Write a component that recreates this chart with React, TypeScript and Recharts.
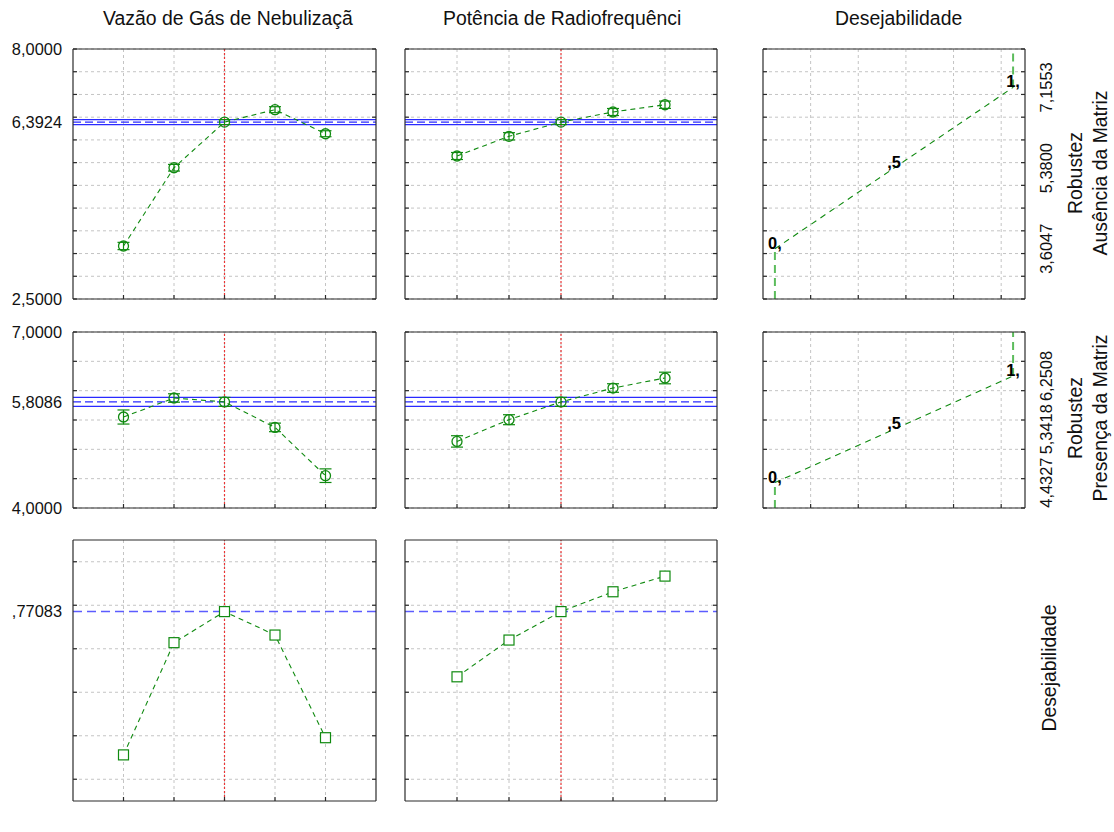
import React from "react";
import {
  CartesianGrid,
  ComposedChart,
  ErrorBar,
  LabelList,
  Line,
  ReferenceLine,
  XAxis,
  YAxis,
} from "recharts";

// factor levels
const gasLevels = [0.6, 0.8, 1.0, 1.2, 1.4];
const rfLevels = [1050, 1150, 1250, 1350, 1450];
const gasCurrent = 1.0;
const rfCurrent = 1250;

const gasTickValues = [0.6, 1.0, 1.4];
const gasTickText = [",6", "1,", "1,4"];
const rfTickValues = [1050, 1250, 1450];
const rfTickText = ["1050,", "1250,", "1450,"];

// Robustez - Ausência da Matriz
const ausVsGas = [3.666, 5.388, 6.3924, 6.665, 6.136];
const ausVsGasErr = [0.08, 0.073, 0.055, 0.066, 0.066];
const ausVsRf = [5.646, 6.079, 6.3924, 6.614, 6.774];
const ausVsRfErr = [0.077, 0.08, 0.055, 0.077, 0.08];
const ausPredicted = 6.3924;
const ausInterval = [6.337, 6.447];
const ausTickValues = [2.5, 6.3924, 8.0];
const ausTickText = ["2,5000", "6,3924", "8,0000"];
const ausGrid = [2.5, 3, 3.5, 4, 4.5, 5, 5.5, 6, 6.5, 7, 7.5, 8];
const ausDesirValues = [3.6047, 5.38, 7.1553];
const ausDesirText = ["3,6047", "5,3800", "7,1553"];

// Robustez - Presença da Matriz
const preVsGas = [5.551, 5.875, 5.8086, 5.374, 4.551];
const preVsGasErr = [0.12, 0.072, 0.077, 0.073, 0.116];
const preVsRf = [5.135, 5.505, 5.8086, 6.045, 6.216];
const preVsRfErr = [0.097, 0.085, 0.077, 0.073, 0.099];
const prePredicted = 5.8086;
const preInterval = [5.732, 5.885];
const preTickValues = [4.0, 5.8086, 7.0];
const preTickText = ["4,0000", "5,8086", "7,0000"];
const preGrid = [4, 4.5, 5, 5.5, 6, 6.5, 7];
const preDesirValues = [4.4327, 5.34175, 6.2508];
const preDesirText = ["4,4327", "5,3418", "6,2508"];

// Desejabilidade global
const desVsGas = [0.112, 0.628, 0.77083, 0.663, 0.191];
const desVsRf = [0.471, 0.64, 0.77083, 0.862, 0.934];
const desOverall = 0.77083;
const desTickValues = [0.77083];
const desTickText = [",77083"];
const desGrid = [0, 0.2, 0.4, 0.6, 0.8, 1.0];

// desirability function axis
const desirLevels = [0, 0.5, 1];
const desirLevelText = ["0,", ",5", "1,"];
const desirGrid = [0.15, 0.35, 0.55, 0.75, 0.95];

const GREEN = "#108a10";
const LIGHT_GREEN = "#5cbc5c";
const RED = "#ec3434";
const BLUE = "#2a2aff";
const SOFT_BLUE = "#5c5cff";
const FRAME = "#2a2a2a";
const GRID = "#c4c4c4";
const FONT = '"Liberation Sans", Arial, Helvetica, sans-serif';
const TICK_FS = 16.4;
const TITLE_FS = 19.4;

const PAD_L = 72;
const PAD_R = 95;
const PAD_T = 10;
const PAD_B = 40;

type TickSet = { values: number[]; text: string[]; bold?: number };

type PanelProps = {
  x: number;
  y: number;
  w: number;
  h: number;
  xDomain: [number, number];
  xGrid: number[];
  yDomain: [number, number];
  yGrid: number[];
  leftTicks?: TickSet;
  rightTicks?: TickSet;
  bottomTicks?: TickSet;
  children: React.ReactNode;
};

const lookup = (t: TickSet, v: number) => t.text[t.values.indexOf(v)] ?? "";

// tick marks only, no text
const noText = () => <g />;

function Panel(props: PanelProps) {
  const { x, y, w, h, xDomain, xGrid, yDomain, yGrid, leftTicks, rightTicks, bottomTicks } = props;
  const frame = { stroke: FRAME, strokeWidth: 1.2 };
  return (
    <div style={{ position: "absolute", left: x - PAD_L, top: y - PAD_T }}>
      <ComposedChart
        width={w + PAD_L + PAD_R}
        height={h + PAD_T + PAD_B}
        margin={{
          top: PAD_T,
          left: leftTicks ? 0 : PAD_L,
          right: rightTicks ? 0 : PAD_R,
          bottom: bottomTicks ? 0 : PAD_B,
        }}
      >
        <CartesianGrid xAxisId="xb" yAxisId="yl" stroke={GRID} strokeDasharray="3 3"
          horizontalValues={yGrid} verticalValues={xGrid} />
        <XAxis xAxisId="xb" dataKey="x" type="number" domain={xDomain} ticks={xGrid} allowDataOverflow
          orientation="bottom" mirror tick={noText} tickSize={4} interval={0} axisLine={frame} tickLine={frame} />
        <XAxis xAxisId="xt" type="number" domain={xDomain} ticks={xGrid} allowDataOverflow
          orientation="top" mirror tick={noText} tickSize={4} interval={0} axisLine={frame} tickLine={frame} />
        <YAxis yAxisId="yl" type="number" domain={yDomain} ticks={yGrid} allowDataOverflow
          orientation="left" mirror tick={noText} tickSize={4} interval={0} axisLine={frame} tickLine={frame} />
        <YAxis yAxisId="yr" type="number" domain={yDomain} ticks={yGrid} allowDataOverflow
          orientation="right" mirror tick={noText} tickSize={4} interval={0} axisLine={frame} tickLine={frame} />
        {leftTicks && (
          <YAxis yAxisId="ylab" type="number" domain={yDomain} ticks={leftTicks.values} allowDataOverflow
            orientation="left" width={PAD_L} axisLine={false} tickLine={false} tickSize={0} tickMargin={11}
            interval={0} tick={{ fill: "#111", fontSize: TICK_FS }}
            tickFormatter={(v: number) => lookup(leftTicks, v)} />
        )}
        {rightTicks && (
          <YAxis yAxisId="yrlab" type="number" domain={yDomain} ticks={rightTicks.values} allowDataOverflow
            orientation="right" width={PAD_R} axisLine={false} tickLine={false} tickSize={0} tickMargin={0}
            interval={0}
            tick={(p: any) => {
              const cx = p.x + 21;
              return (
                <text x={cx} y={p.y} transform={`rotate(-90 ${cx} ${p.y})`} textAnchor="middle"
                  dominantBaseline="central" fontSize={TICK_FS} fill="#111">
                  {lookup(rightTicks, p.payload.value)}
                </text>
              );
            }} />
        )}
        {bottomTicks && (
          <XAxis xAxisId="xlab" type="number" domain={xDomain} ticks={bottomTicks.values} allowDataOverflow
            orientation="bottom" height={PAD_B} axisLine={false} tickLine={false} tickSize={0} tickMargin={0}
            interval={0}
            tick={(p: any) => (
              <text x={p.x} y={p.y + 19} textAnchor="middle" dominantBaseline="central" fontSize={TICK_FS}
                fill="#111" fontWeight={p.payload.value === bottomTicks.bold ? "bold" : "normal"}>
                {lookup(bottomTicks, p.payload.value)}
              </text>
            )} />
        )}
        {props.children}
      </ComposedChart>
    </div>
  );
}

const circleDot = (p: any) => (
  <circle key={`c-${p.index}`} cx={p.cx} cy={p.cy} r={5} fill="none" stroke={GREEN} strokeWidth={1.3} />
);

const squareDot = (p: any) => (
  <rect key={`sq-${p.index}`} x={p.cx - 5} y={p.cy - 5} width={10} height={10}
    fill="#fff" stroke={GREEN} strokeWidth={1.2} />
);

function responseProfile(xs: number[], ys: number[], errs: number[], current: number,
  predicted: number, band: number[]) {
  const data = xs.map((x, i) => ({ x, y: ys[i], err: errs[i] }));
  return [
    <ReferenceLine key="lo" xAxisId="xb" yAxisId="yl" y={band[0]} stroke={BLUE} strokeWidth={1.2} />,
    <ReferenceLine key="hi" xAxisId="xb" yAxisId="yl" y={band[1]} stroke={BLUE} strokeWidth={1.2} />,
    <ReferenceLine key="mid" xAxisId="xb" yAxisId="yl" y={predicted} stroke={BLUE} strokeWidth={1.2}
      strokeDasharray="8 4" />,
    <ReferenceLine key="cur" xAxisId="xb" yAxisId="yl" x={current} stroke={RED} strokeWidth={1.2}
      strokeDasharray="2 2" />,
    <Line key="resp" data={data} xAxisId="xb" yAxisId="yl" dataKey="y" stroke={GREEN} strokeWidth={1.1}
      strokeDasharray="5 4" dot={circleDot} activeDot={false} isAnimationActive={false}>
      <ErrorBar dataKey="err" direction="y" width={6} stroke={GREEN} strokeWidth={1.2} />
    </Line>,
  ];
}

function desirProfile(xs: number[], ys: number[], current: number) {
  const data = xs.map((x, i) => ({ x, y: ys[i] }));
  return [
    <ReferenceLine key="tot" xAxisId="xb" yAxisId="yl" y={desOverall} stroke={SOFT_BLUE} strokeWidth={1.5}
      strokeDasharray="9 5" />,
    <ReferenceLine key="cur" xAxisId="xb" yAxisId="yl" x={current} stroke={RED} strokeWidth={1.2}
      strokeDasharray="2 2" />,
    <Line key="des" data={data} xAxisId="xb" yAxisId="yl" dataKey="y" stroke={GREEN} strokeWidth={1.1}
      strokeDasharray="5 4" dot={squareDot} activeDot={false} isAnimationActive={false} />,
  ];
}

const desirLabel = (p: any) =>
  p.value ? (
    <text x={p.x} y={p.y} textAnchor="middle" fontWeight="bold" fontSize={TICK_FS} fill="#000">
      {p.value}
    </text>
  ) : null;

function desirFunction(limits: number[], yDomain: [number, number]) {
  const ramp = desirLevels.map((d, i) => ({ x: d, y: limits[i], lbl: desirLevelText[i] }));
  const below = [{ x: 0, y: yDomain[0] }, { x: 0, y: limits[0] }];
  const above = [{ x: 1, y: limits[2] }, { x: 1, y: yDomain[1] }];
  return [
    <Line key="below" data={below} xAxisId="xb" yAxisId="yl" dataKey="y" stroke={LIGHT_GREEN}
      strokeWidth={2} strokeDasharray="8 5" dot={false} activeDot={false} isAnimationActive={false} />,
    <Line key="above" data={above} xAxisId="xb" yAxisId="yl" dataKey="y" stroke={LIGHT_GREEN}
      strokeWidth={2} strokeDasharray="8 5" dot={false} activeDot={false} isAnimationActive={false} />,
    <Line key="ramp" data={ramp} xAxisId="xb" yAxisId="yl" dataKey="y" stroke={GREEN} strokeWidth={1.1}
      strokeDasharray="6 5" dot={false} activeDot={false} isAnimationActive={false}>
      <LabelList dataKey="lbl" content={desirLabel} />
    </Line>,
  ];
}

const C1 = { x: 73, w: 303 };
const C2 = { x: 405, w: 312 };
const C3 = { x: 763, w: 262 };
const R1 = { y: 49, h: 250 };
const R2 = { y: 332, h: 176 };
const R3 = { y: 540, h: 261 };

const gasDomain: [number, number] = [0.4, 1.6];
const rfDomain: [number, number] = [950, 1550];
const desirDomain: [number, number] = [-0.05, 1.05];
const ausDomain: [number, number] = [2.5, 8];
const preDomain: [number, number] = [4, 7];
const desDomain: [number, number] = [-0.1, 1.1];

function ColumnTitle({ left, text }: { left: number; text: string }) {
  return (
    <div style={{ position: "absolute", left, top: 7, whiteSpace: "nowrap",
      fontSize: TITLE_FS, lineHeight: "22px" }}>
      {text}
    </div>
  );
}

function RowTitle({ cx, cy, lines }: { cx: number; cy: number; lines: string[] }) {
  return (
    <div style={{ position: "absolute", left: cx, top: cy, transform: "translate(-50%, -50%) rotate(-90deg)",
      whiteSpace: "nowrap", textAlign: "center", fontSize: TITLE_FS, lineHeight: "25px" }}>
      {lines.map((l) => (
        <div key={l}>{l}</div>
      ))}
    </div>
  );
}

export default function App() {
  const gasBottom = { values: gasTickValues, text: gasTickText, bold: gasCurrent };
  const rfBottom = { values: rfTickValues, text: rfTickText, bold: rfCurrent };
  return (
    <div style={{ position: "absolute", left: 0, top: 0, width: 1114, height: 832, background: "#fff",
      fontFamily: FONT, color: "#111" }}>
      <ColumnTitle left={103} text="Vazão de Gás de Nebulizaçã" />
      <ColumnTitle left={443} text="Potência de Radiofrequênci" />
      <ColumnTitle left={835} text="Desejabilidade" />

      {/* row 1: Robustez, Ausência da Matriz */}
      <Panel {...C1} {...R1} xDomain={gasDomain} xGrid={gasLevels} yDomain={ausDomain} yGrid={ausGrid}
        leftTicks={{ values: ausTickValues, text: ausTickText }}>
        {responseProfile(gasLevels, ausVsGas, ausVsGasErr, gasCurrent, ausPredicted, ausInterval)}
      </Panel>
      <Panel {...C2} {...R1} xDomain={rfDomain} xGrid={rfLevels} yDomain={ausDomain} yGrid={ausGrid}>
        {responseProfile(rfLevels, ausVsRf, ausVsRfErr, rfCurrent, ausPredicted, ausInterval)}
      </Panel>
      <Panel {...C3} {...R1} xDomain={desirDomain} xGrid={desirGrid} yDomain={ausDomain} yGrid={ausGrid}
        rightTicks={{ values: ausDesirValues, text: ausDesirText }}>
        {desirFunction(ausDesirValues, ausDomain)}
      </Panel>

      {/* row 2: Robustez, Presença da Matriz */}
      <Panel {...C1} {...R2} xDomain={gasDomain} xGrid={gasLevels} yDomain={preDomain} yGrid={preGrid}
        leftTicks={{ values: preTickValues, text: preTickText }}>
        {responseProfile(gasLevels, preVsGas, preVsGasErr, gasCurrent, prePredicted, preInterval)}
      </Panel>
      <Panel {...C2} {...R2} xDomain={rfDomain} xGrid={rfLevels} yDomain={preDomain} yGrid={preGrid}>
        {responseProfile(rfLevels, preVsRf, preVsRfErr, rfCurrent, prePredicted, preInterval)}
      </Panel>
      <Panel {...C3} {...R2} xDomain={desirDomain} xGrid={desirGrid} yDomain={preDomain} yGrid={preGrid}
        rightTicks={{ values: preDesirValues, text: preDesirText }}>
        {desirFunction(preDesirValues, preDomain)}
      </Panel>

      {/* row 3: overall desirability */}
      <Panel {...C1} {...R3} xDomain={gasDomain} xGrid={gasLevels} yDomain={desDomain} yGrid={desGrid}
        leftTicks={{ values: desTickValues, text: desTickText }} bottomTicks={gasBottom}>
        {desirProfile(gasLevels, desVsGas, gasCurrent)}
      </Panel>
      <Panel {...C2} {...R3} xDomain={rfDomain} xGrid={rfLevels} yDomain={desDomain} yGrid={desGrid}
        bottomTicks={rfBottom}>
        {desirProfile(rfLevels, desVsRf, rfCurrent)}
      </Panel>

      <RowTitle cx={1088} cy={173} lines={["Robustez", "Ausência da Matriz"]} />
      <RowTitle cx={1088} cy={418} lines={["Robustez", "Presença da Matriz"]} />
      <RowTitle cx={1049} cy={668} lines={["Desejabilidade"]} />
    </div>
  );
}
